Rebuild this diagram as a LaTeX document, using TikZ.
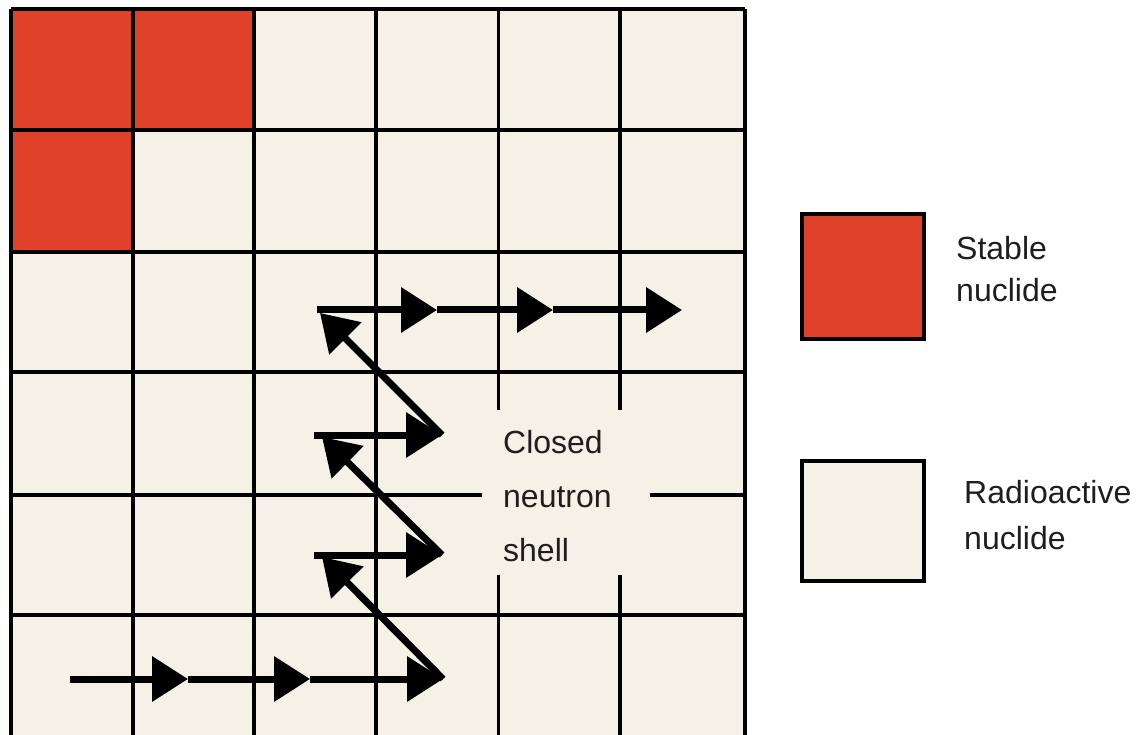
\documentclass[tikz,border=0pt]{standalone}
\usepackage{fontspec}
\setmainfont{Liberation Sans}
\usetikzlibrary{arrows.meta}
\definecolor{stablered}{HTML}{DF4229}
\definecolor{cream}{HTML}{F5F1E6}
\definecolor{ink}{HTML}{1E1E1E}
\begin{document}
\begin{tikzpicture}[x=1pt, y=-1pt,
  gridline/.style={line width=3.8pt, black, line cap=square},
  arrowline/.style={line width=7pt, black, -{Triangle[length=36pt,width=44pt]}},
  legendbox/.style={draw=black, line width=3.8pt, minimum width=122pt, inner sep=0pt},
  textlabel/.style={anchor=base west, inner sep=0pt, text=ink}]
\useasboundingbox (0,0) rectangle (1143,735);
\clip (0,0) rectangle (1143,735);
\fill[white] (0,0) rectangle (1143,735);
% cells
\fill[cream] (10.8,8.8) rectangle (744.7,745);
\fill[stablered] (10.8,8.8) rectangle (254.2,129.7);
\fill[stablered] (10.8,129.7) rectangle (132.8,252);
% grid lines
\foreach \x in {10.8,132.8,254.2,375.8,744.7}
  \draw[gridline] (\x,8.8) -- (\x,745);
\foreach \x in {498.5,620.2}{
  \draw[gridline] (\x,8.8) -- (\x,409.9);
  \draw[gridline] (\x,575.1) -- (\x,745);
}
\foreach \y in {8.8,129.7,252,372,615.3}
  \draw[gridline] (10.8,\y) -- (744.7,\y);
\draw[gridline] (10.8,495.3) -- (481.5,495.3);
\draw[gridline] (650.1,495.3) -- (744.7,495.3);
% label
\node[textlabel, font=\fontsize{32}{54}\selectfont] (shell) at (503,453)
  {\begin{tabular}[t]{@{}l@{}}Closed\\neutron\\shell\end{tabular}};
% path coordinates
\coordinate (b0) at (70,679);
\coordinate (b1) at (188,679);
\coordinate (b2) at (310,679);
\coordinate (b3) at (443,679);
\coordinate (c0) at (314,555);
\coordinate (ctip) at (322,557);
\coordinate (c1) at (442,555);
\coordinate (d0) at (314,435);
\coordinate (dtip) at (322,437);
\coordinate (d1) at (442,435);
\coordinate (t0) at (317,310);
\coordinate (ttip) at (320,313);
\coordinate (t1) at (437,310);
\coordinate (t2) at (553,310);
\coordinate (t3) at (682,310);
% arrows
\draw[arrowline] (b0) -- (b1);
\draw[arrowline] (b1) -- (b2);
\draw[arrowline] (b2) -- (b3);
\draw[arrowline] (b3) -- (ctip);
\draw[arrowline] (c0) -- (c1);
\draw[arrowline] (c1) -- (dtip);
\draw[arrowline] (d0) -- (d1);
\draw[arrowline] (d1) -- (ttip);
\draw[arrowline] (t0) -- (t1);
\draw[arrowline] (t1) -- (t2);
\draw[arrowline] (t2) -- (t3);
% legend
\node[legendbox, fill=stablered, minimum height=124.4pt] (stablebox) at (863,276.5) {};
\node[legendbox, fill=cream, minimum height=120.3pt] (radiobox) at (863,521.2) {};
\node[textlabel, font=\fontsize{32}{42}\selectfont] (stabletext) at (956,260)
  {\begin{tabular}[t]{@{}l@{}}Stable\\nuclide\end{tabular}};
\node[textlabel, font=\fontsize{32}{46}\selectfont] (radiotext) at (964,503)
  {\begin{tabular}[t]{@{}l@{}}Radioactive\\nuclide\end{tabular}};
\end{tikzpicture}
\end{document}
